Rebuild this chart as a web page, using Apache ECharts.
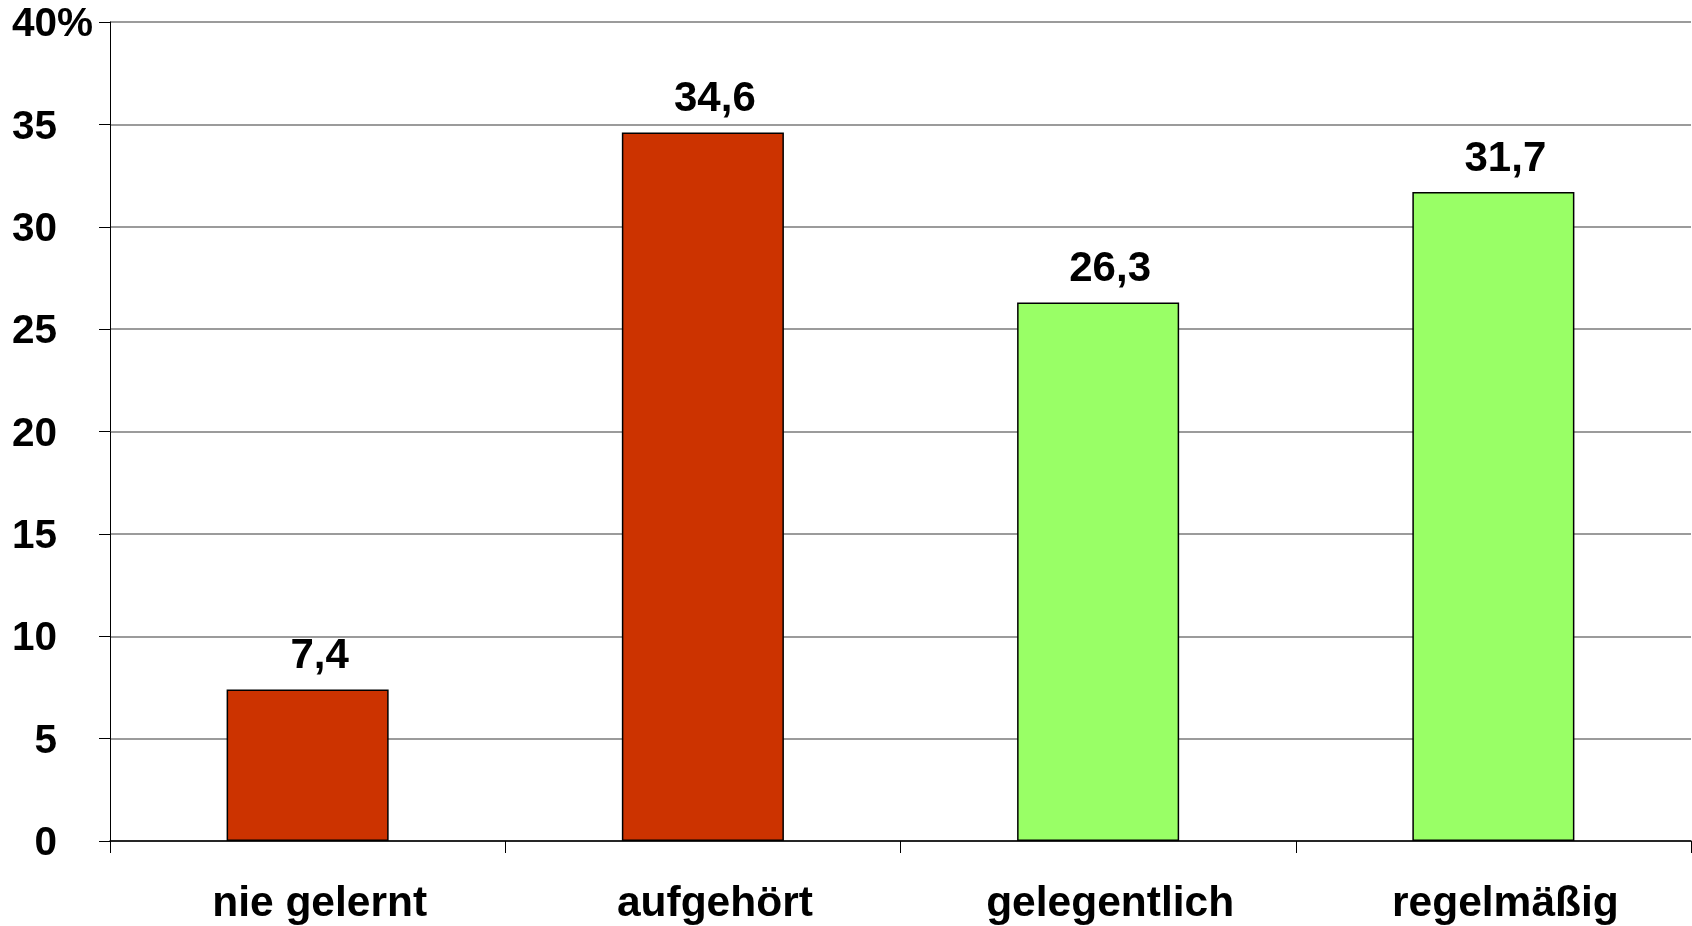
<!DOCTYPE html>
<html>
<head>
<meta charset="utf-8">
<script src="https://cdn.jsdelivr.net/npm/echarts@6/dist/echarts.min.js"></script>
<style>
html,body{margin:0;padding:0;background:#fff;}
#chart{width:1692px;height:926px;}
</style>
</head>
<body>
<div id="chart"></div>
<script>
const categories = ['nie gelernt', 'aufgehört', 'gelegentlich', 'regelmäßig'];
const values = [7.4, 34.6, 26.3, 31.7];
const yTicks = [0, 5, 10, 15, 20, 25, 30, 35, 40];

const palette = ['#CC3300', '#CC3300', '#99FF66', '#99FF66'];
const FONT = '"Liberation Sans", Arial, sans-serif';

const chart = echarts.init(document.getElementById('chart'), null, {renderer: 'canvas'});
chart.setOption({
  animation: false,
  backgroundColor: '#ffffff',
  grid: {left: 110, right: 1, top: 22, bottom: 85, containLabel: false},
  xAxis: {
    type: 'category',
    data: categories,
    axisLine: {show: true, lineStyle: {color: '#000', width: 1.5}},
    axisTick: {show: true, length: 12, lineStyle: {color: '#000', width: 1}},
    axisLabel: {
      margin: 42,
      color: '#000',
      fontFamily: FONT,
      fontWeight: 'bold',
      fontSize: 42.5,
      padding: [0, 0, 0, 24]
    },
    splitLine: {show: false}
  },
  yAxis: {
    type: 'value',
    min: yTicks[0],
    max: yTicks[yTicks.length - 1],
    interval: 5,
    axisLine: {show: true, lineStyle: {color: '#000', width: 1}},
    axisTick: {show: true, length: 11, lineStyle: {color: '#000', width: 1}},
    splitLine: {show: true, lineStyle: {color: '#7a7a7a', width: 1.5}},
    axisLabel: {
      margin: 53,
      color: '#000',
      fontFamily: FONT,
      fontWeight: 'bold',
      fontSize: 40.5,
      padding: [6, 0, 0, 0],
      formatter: function (v) {
        return v === yTicks[yTicks.length - 1] ? '{a|' + v + '}{p|%}' : '{n|' + v + '}';
      },
      rich: {
        n: {fontFamily: FONT, fontWeight: 'bold', fontSize: 40.5, color: '#000'},
        a: {fontFamily: FONT, fontWeight: 'bold', fontSize: 40.5, color: '#000', align: 'left'},
        p: {fontFamily: FONT, fontWeight: 'bold', fontSize: 40.5, color: '#000', width: 0, align: 'left'}
      }
    }
  },
  series: [{
    type: 'bar',
    data: values,
    barWidth: '41%',
    itemStyle: {
      color: function (p) { return palette[p.dataIndex]; },
      borderColor: '#000',
      borderWidth: 1.5
    },
    label: {
      show: true,
      position: 'top',
      distance: 12,
      offset: [12, 0],
      color: '#000',
      fontFamily: FONT,
      fontWeight: 'bold',
      fontSize: 42,
      formatter: function (p) { return String(p.value).replace('.', ','); }
    }
  }]
});
</script>
</body>
</html>
